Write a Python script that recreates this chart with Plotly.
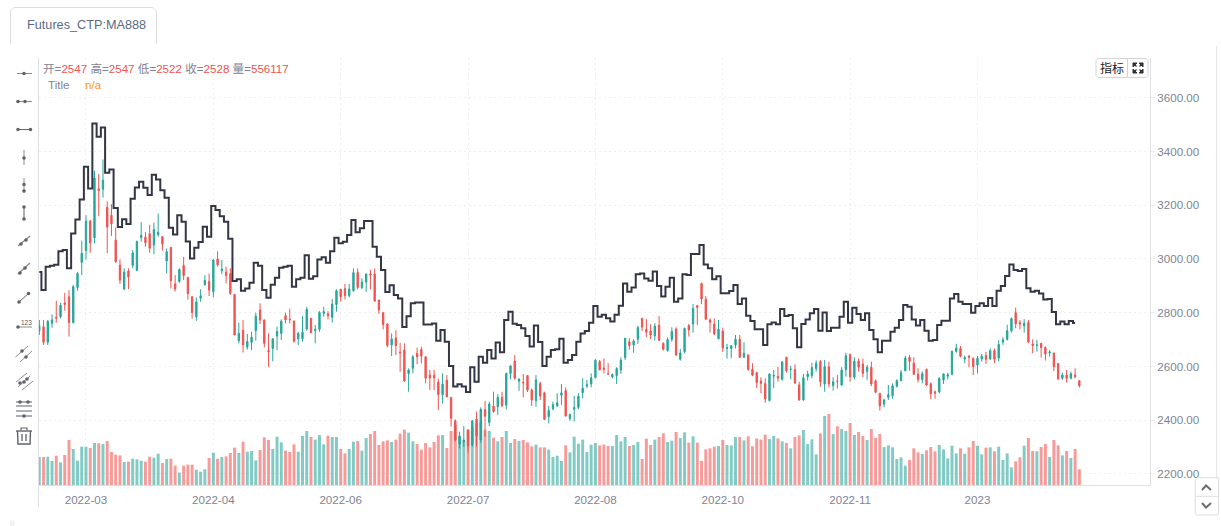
import plotly.graph_objects as go

# Daily bars for Futures_CTP:MA888
open_px = [
    2733,2748,2690,2760,2783,2785,2836,2859,2763,2894,
    2987,3031,3141,3079,3261,3259,3192,3162,3070,2977,
    2888,2955,2976,2957,3079,3081,3094,3052,3090,3083,
    2992,3043,2907,2916,2976,2931,2859,2785,2854,2905,
    2916,2878,3000,2956,2951,2945,2868,2696,2735,2672,
    2690,2733,2810,2773,2660,2667,2713,2723,2789,2776,
    2769,2703,2703,2739,2779,2733,2738,2797,2796,2783,
    2830,2887,2889,2863,2882,2950,2893,2914,2944,2944,
    2847,2800,2758,2680,2706,2654,2661,2573,2593,2649,
    2663,2636,2568,2567,2542,2495,2549,2485,2398,2311,
    2320,2363,2308,2404,2326,2440,2391,2453,2450,2485,
    2456,2574,2620,2545,2541,2566,2512,2473,2537,2502,
    2413,2443,2453,2493,2510,2406,2441,2448,2502,2527,
    2535,2558,2618,2594,2574,2561,2566,2587,2633,2692,
    2680,2701,2779,2738,2732,2714,2753,2686,2659,2701,
    2739,2627,2655,2752,2758,2826,2909,2850,2773,2758,
    2703,2732,2667,2667,2680,2701,2634,2643,2589,2577,
    2546,2537,2473,2564,2563,2552,2634,2589,2589,2531,
    2475,2562,2566,2592,2618,2535,2599,2529,2546,2531,
    2589,2645,2560,2620,2609,2581,2597,2546,2500,2460,
    2485,2491,2526,2547,2584,2634,2613,2572,2552,2589,
    2536,2506,2505,2550,2564,2571,2656,2667,2628,2638,
    2630,2605,2628,2641,2628,2659,2631,2691,2701,2733,
    2800,2763,2751,2764,2684,2678,2686,2671,2650,2650,
    2611,2556,2568,2556,2568,2547,
]
high_px = [
    2773,2773,2773,2794,2845,2837,2874,2884,2903,2952,
    3068,3163,3145,3328,3316,3370,3214,3204,3117,2998,
    2965,2965,3033,3068,3137,3100,3127,3135,3169,3085,
    3039,3045,2940,2965,3008,2934,2862,2857,2887,2939,
    2946,2999,3028,2996,2971,2965,2868,2763,2773,2721,
    2729,2800,2835,2775,2723,2704,2748,2775,2800,2815,
    2770,2729,2787,2822,2780,2754,2806,2822,2806,2851,
    2887,2888,2907,2907,2965,2965,2928,2946,2959,2964,
    2848,2802,2760,2723,2735,2688,2686,2593,2642,2670,
    2673,2637,2587,2587,2555,2574,2568,2486,2403,2357,
    2378,2366,2399,2432,2448,2472,2469,2506,2497,2506,
    2577,2605,2642,2556,2572,2568,2518,2568,2543,2506,
    2453,2469,2500,2535,2522,2423,2490,2500,2556,2550,
    2574,2627,2624,2630,2612,2574,2597,2634,2706,2705,
    2701,2751,2780,2776,2757,2761,2788,2689,2708,2746,
    2746,2665,2745,2758,2832,2829,2912,2862,2779,2779,
    2773,2744,2684,2680,2717,2717,2690,2645,2612,2579,
    2560,2556,2574,2587,2599,2619,2636,2602,2608,2543,
    2572,2584,2614,2622,2624,2624,2618,2560,2568,2597,
    2651,2646,2634,2630,2629,2606,2618,2552,2501,2480,
    2531,2537,2552,2587,2639,2643,2634,2593,2582,2592,
    2540,2510,2560,2574,2577,2659,2684,2676,2641,2643,
    2634,2639,2646,2654,2667,2667,2698,2709,2755,2782,
    2819,2773,2776,2773,2701,2699,2687,2674,2661,2651,
    2612,2577,2587,2581,2593,2547,
]
low_px = [
    2717,2680,2680,2744,2763,2779,2807,2711,2760,2882,
    2940,2998,3023,3058,3159,3228,3021,3086,2985,2907,
    2884,2888,2965,2956,3064,3045,3023,3018,3083,3031,
    2946,2890,2879,2911,2921,2849,2778,2770,2841,2899,
    2862,2857,2971,2944,2909,2866,2717,2686,2652,2663,
    2661,2696,2758,2671,2599,2619,2661,2698,2760,2760,
    2688,2680,2692,2733,2724,2686,2729,2785,2775,2763,
    2804,2841,2849,2857,2878,2887,2887,2878,2887,2841,
    2795,2738,2671,2639,2642,2580,2543,2506,2574,2609,
    2611,2537,2512,2512,2438,2462,2485,2376,2320,2295,
    2301,2279,2301,2301,2316,2339,2378,2428,2419,2448,
    2440,2552,2550,2509,2485,2505,2453,2450,2475,2401,
    2388,2436,2450,2457,2413,2398,2395,2441,2481,2519,
    2522,2556,2586,2574,2568,2556,2535,2572,2624,2662,
    2651,2684,2732,2709,2701,2696,2696,2659,2655,2692,
    2639,2622,2649,2711,2726,2754,2832,2773,2726,2717,
    2701,2654,2629,2630,2667,2631,2631,2584,2564,2519,
    2500,2465,2470,2519,2543,2547,2577,2552,2535,2473,
    2473,2547,2556,2581,2525,2506,2522,2510,2518,2527,
    2562,2543,2552,2581,2560,2550,2527,2500,2436,2448,
    2475,2480,2522,2546,2582,2584,2568,2540,2537,2527,
    2478,2480,2500,2535,2552,2567,2651,2634,2612,2597,
    2568,2574,2618,2609,2624,2612,2618,2680,2696,2726,
    2742,2738,2726,2686,2649,2655,2633,2622,2636,2583,
    2550,2550,2540,2552,2556,2522,
]
close_px = [
    2750,2690,2768,2773,2780,2827,2831,2764,2897,2946,
    3021,3141,3060,3301,3254,3293,3119,3131,2990,2921,
    2951,2933,3023,3065,3088,3060,3040,3110,3099,3055,
    3027,2919,2888,2961,2938,2871,2801,2840,2863,2920,
    2884,2996,2978,2962,2938,2872,2717,2723,2680,2693,
    2709,2787,2773,2686,2655,2703,2730,2768,2773,2774,
    2694,2723,2727,2812,2725,2738,2801,2804,2789,2832,
    2882,2859,2863,2888,2949,2894,2914,2944,2940,2843,
    2810,2756,2678,2702,2677,2651,2546,2587,2636,2636,
    2639,2556,2557,2558,2495,2534,2487,2407,2326,2339,
    2326,2305,2398,2342,2440,2415,2460,2432,2485,2454,
    2574,2602,2556,2553,2539,2512,2475,2550,2490,2403,
    2436,2458,2465,2502,2416,2422,2447,2489,2519,2532,
    2558,2623,2587,2590,2572,2570,2592,2623,2705,2678,
    2695,2745,2747,2727,2717,2750,2697,2664,2700,2730,
    2643,2650,2741,2736,2816,2820,2851,2776,2764,2721,
    2738,2669,2670,2677,2701,2634,2649,2589,2567,2540,
    2537,2479,2572,2567,2557,2617,2584,2590,2538,2475,
    2558,2572,2596,2612,2543,2599,2535,2543,2545,2587,
    2640,2562,2619,2597,2574,2597,2535,2504,2453,2475,
    2495,2528,2547,2577,2631,2619,2571,2552,2573,2531,
    2498,2500,2555,2572,2569,2656,2669,2638,2633,2634,
    2599,2630,2638,2627,2659,2627,2682,2699,2733,2778,
    2758,2758,2761,2691,2678,2680,2670,2646,2654,2599,
    2554,2568,2556,2573,2561,2528,
]
# Traded volume, in thousands of lots
volume_k = [
    991,991,1003,850,1038,802,1062,1593,1274,861,
    1357,1357,1310,1487,1475,1451,1558,1168,1074,1050,
    814,826,932,909,861,826,1003,968,1109,779,
    920,932,684,437,684,720,720,543,472,555,
    956,1145,932,991,1015,1133,1322,1133,1534,1180,
    1204,873,1239,1687,1593,1274,1711,1510,1215,1168,
    1440,1180,1735,1912,1699,1605,1770,1440,1746,1699,
    1699,1274,1121,1274,1534,1558,1215,1664,1805,1912,
    1416,1546,1581,1522,1605,1817,1959,1853,1546,1451,
    1251,1487,1333,1522,1758,1770,1310,1912,2124,1746,
    1581,1959,2065,2183,2242,1959,1912,1676,1546,1699,
    1912,1487,1628,1558,1593,1510,1369,1428,1333,1333,
    1251,991,1038,850,1404,1156,1711,1463,1605,1168,
    1428,1487,1404,1428,1381,1381,1770,1546,1699,1381,
    1416,1522,920,1640,1416,1605,1699,1829,1522,1569,
    1876,1664,1864,1499,1723,1499,850,1263,1298,1357,
    1381,1593,1416,1404,1699,1699,1581,1723,1369,1652,
    1605,1782,1628,1735,1652,1546,1487,1298,1699,1758,
    1947,1451,1617,1086,1829,2443,2513,1805,2077,1982,
    1912,2195,1770,1876,1735,1593,1982,1664,1805,1345,
    1404,1333,920,979,684,885,1298,1156,1097,1227,
    1345,1192,1416,1263,944,1392,1121,1298,1109,1333,
    1558,1392,1086,1322,1333,1192,1357,885,1121,625,
    838,979,1392,1664,1204,1192,1345,1451,991,1593,
    1404,1050,1204,956,1274,556.117,
]
# Stepped indicator line; it stops one bar before the last candle
indicator = [
    2951,2884,2971,2975,2978,3029,3033,2965,3095,3147,
    3221,3343,3262,3504,3455,3489,3321,3333,3190,3119,
    3148,3130,3224,3266,3287,3265,3238,3313,3296,3256,
    3228,3116,3091,3163,3138,3065,3002,3042,3063,3120,
    3083,3197,3182,3159,3138,3075,2918,2924,2882,2890,
    2911,2986,2975,2884,2856,2904,2930,2967,2971,2975,
    2897,2924,2930,3014,2926,2936,2998,3006,2986,3029,
    3079,3058,3064,3089,3145,3099,3114,3141,3141,3045,
    3008,2959,2877,2902,2866,2853,2747,2787,2835,2838,
    2838,2756,2756,2760,2696,2736,2692,2602,2525,2534,
    2525,2505,2597,2543,2636,2614,2661,2630,2689,2653,
    2773,2804,2759,2754,2742,2713,2674,2752,2691,2602,
    2636,2661,2664,2703,2614,2624,2643,2692,2723,2732,
    2763,2825,2785,2792,2779,2767,2792,2826,2909,2878,
    2894,2943,2946,2927,2919,2953,2899,2860,2897,2930,
    2841,2853,2943,2940,3018,3018,3052,2979,2965,2924,
    2936,2872,2872,2881,2903,2832,2853,2789,2769,2738,
    2738,2680,2757,2764,2757,2814,2788,2791,2742,2671,
    2758,2775,2798,2814,2733,2801,2732,2744,2744,2785,
    2841,2763,2818,2795,2773,2798,2736,2701,2653,2696,
    2696,2729,2744,2773,2829,2822,2775,2752,2773,2733,
    2696,2698,2754,2770,2770,2853,2870,2841,2832,2832,
    2800,2825,2835,2825,2855,2825,2882,2899,2937,2979,
    2959,2955,2963,2891,2878,2882,2871,2849,2851,2803,
    2757,2767,2757,2769,2762,
]
month_positions = [11, 41, 71, 101, 131, 161, 191, 221]
month_labels = ["2022-03", "2022-04", "2022-06", "2022-07", "2022-08", "2022-10", "2022-11", "2023"]
price_ticks = [2200, 2400, 2600, 2800, 3000, 3200, 3400, 3600]

UP = "#26a69a"
DOWN = "#ef5350"
UP_VOL = "rgba(38,166,154,0.58)"
DOWN_VOL = "rgba(239,83,80,0.58)"
GRID = "#eceef2"
AXIS = "#dcdfe4"
MUTED = "#7f8494"
ICON = "#5f6368"
FONT = "'Liberation Sans','Noto Sans CJK SC',sans-serif"

W, H = 1221, 526
LEFT, RIGHT, TOP, BOTTOM = 39, 1150, 58, 485
bar_index = list(range(len(close_px)))
line_index = list(range(len(indicator)))


def px(x):
    return (x - LEFT) / (RIGHT - LEFT)


def py(y):
    return (BOTTOM - y) / (BOTTOM - TOP)


shapes = []


def seg(x0, y0, x1, y1, color=ICON, width=1.0):
    shapes.append(dict(type="line", xref="paper", yref="paper",
                       x0=px(x0), y0=py(y0), x1=px(x1), y1=py(y1),
                       line=dict(color=color, width=width), layer="above"))


def dot(x, y, r=1.8, color=ICON):
    shapes.append(dict(type="circle", xref="paper", yref="paper",
                       x0=px(x - r), y0=py(y - r), x1=px(x + r), y1=py(y + r),
                       line=dict(width=0), fillcolor=color, layer="above"))


def poly(points, color=ICON, width=1.0, close=False, fill=None):
    d = "M" + " L".join(f"{px(a):.5f},{py(b):.5f}" for a, b in points)
    if close:
        d += " Z"
    shapes.append(dict(type="path", xref="paper", yref="paper", path=d,
                       line=dict(color=color, width=width),
                       fillcolor=fill or "rgba(0,0,0,0)", layer="above"))


# Drawing toolbar down the left edge
seg(17, 73.5, 32, 73.5, "#8a8d91"); dot(24, 73.5)
seg(17, 101.5, 32, 101.5, "#8a8d91"); dot(18, 101.5); dot(25, 101.5)
seg(17.5, 129.5, 31, 129.5); dot(18, 129.5); dot(30.5, 129.5)
seg(24, 150, 24, 165, "#8a8d91"); dot(24, 158)
seg(24, 178, 24, 193, "#8a8d91"); dot(24, 184.5); dot(24, 191)
seg(24, 207, 24, 219); dot(24, 207); dot(24, 219)
seg(18, 246, 30, 236, "#8a8d91", 1.4); dot(21, 244); dot(26, 240)
seg(18, 274, 30, 263, "#8a8d91", 1.4); dot(20, 273); dot(25, 268)
seg(19, 302, 29, 293); dot(19, 302); dot(28.5, 293.5)
seg(18, 327, 32, 327, "#8a8d91"); dot(18, 327)
seg(15.5, 357, 28, 346, "#8a8d91"); seg(20, 362, 32, 351, "#8a8d91"); dot(22, 351); dot(26, 357)
seg(16, 382, 27, 373, "#8a8d91"); seg(18, 387, 30, 376, "#8a8d91"); seg(22, 390, 33, 381, "#8a8d91")
dot(20, 383); dot(24, 382); dot(27, 379)
for yy in (402, 406, 411, 416):
    seg(16, yy, 32, yy)
dot(20, 402); dot(28, 402); dot(24, 416)
# Rubbish bin
seg(16, 431, 32, 431, ICON, 1.4)
poly([(21, 430.5), (21, 428), (27, 428), (27, 430.5)], ICON, 1.1)
poly([(17.5, 431), (18, 444), (30, 444), (30.5, 431)], ICON, 1.4)
seg(22, 434, 22, 441, ICON, 1.3)
seg(26, 434, 26, 441, ICON, 1.3)

# Tab above the chart
poly([(10.5, 44), (10.5, 11), (14, 7.5), (153, 7.5), (156.5, 11), (156.5, 44)], "#dddddd", 1)
# Panel edge on the right and the lower axis extension on the left
seg(1216.7, 46, 1216.7, 478, "#e3e3e3", 1)
seg(38.5, 485, 38.5, 507, AXIS, 1)
seg(38.5, 58, 38.5, 485, AXIS, 1)
# Small stub at the bottom left
shapes.append(dict(type="rect", xref="paper", yref="paper", x0=px(10), x1=px(14.5),
                   y0=py(526), y1=py(520.5), line=dict(width=0), fillcolor="#f2f2f2", layer="above"))

# Indicator / fullscreen buttons
poly([(1098, 58.5), (1146, 58.5), (1148, 60.5), (1148, 75.5), (1146, 77.5), (1098, 77.5), (1096, 75.5), (1096, 60.5)],
     "#d4d4d4", 1, close=True, fill="#ffffff")
seg(1127.5, 58.5, 1127.5, 77.5, "#d4d4d4", 1)
for sx, sy in ((1, 1), (-1, 1), (1, -1), (-1, -1)):
    cx, cy = 1138 - sx * 5, 68 - sy * 5
    poly([(cx, cy), (cx + sx * 4, cy), (cx, cy + sy * 4)], "#333333", 1, close=True, fill="#333333")
    seg(cx, cy, cx + sx * 3.5, cy + sy * 3.5, "#333333", 1.2)

# Up / down scroll buttons
poly([(1197, 477.7), (1218, 477.7), (1218.5, 479), (1218.5, 514), (1217, 515), (1197, 515), (1195.2, 513), (1195.2, 480)],
     "#dddddd", 1, close=True, fill="#ffffff")
seg(1195.2, 496.3, 1218.5, 496.3, "#dddddd", 1)
poly([(1202, 490), (1206, 485.5), (1211, 490)], "#6d6d6d", 2)
poly([(1202, 503), (1206, 507.5), (1211, 503)], "#6d6d6d", 2)

volume_colors = [UP_VOL if c >= o else DOWN_VOL for o, c in zip(open_px, close_px)]

fig = go.Figure()
fig.add_trace(go.Bar(
    x=bar_index, y=[v * 1000 for v in volume_k], width=0.7,
    marker=dict(color=volume_colors, line=dict(width=0)), yaxis="y", hoverinfo="y",
))
fig.add_trace(go.Candlestick(
    x=bar_index, open=open_px, high=high_px, low=low_px, close=close_px, yaxis="y2",
    increasing=dict(line=dict(color=UP, width=1), fillcolor=UP),
    decreasing=dict(line=dict(color=DOWN, width=1), fillcolor=DOWN),
    whiskerwidth=0,
))
fig.add_trace(go.Scatter(
    x=line_index, y=indicator, yaxis="y2", mode="lines",
    line=dict(color="#333645", width=2, shape="hvh"),
))


def label(x, y, text, size=11.6, color=MUTED, anchor="left"):
    return dict(xref="paper", yref="paper", x=px(x), y=py(y), text=text, showarrow=False,
                xanchor=anchor, yanchor="middle", align="left",
                font=dict(family=FONT, size=size, color=color))


def pair(name, value):
    return f"{name}=<span style='color:{DOWN}'>{value}</span>"


header = " ".join([pair("开", 2547), pair("高", 2547), pair("低", 2522), pair("收", 2528), pair("量", 556117)])

fig.update_layout(
    width=W, height=H, autosize=False,
    margin=dict(l=LEFT, r=W - RIGHT, t=TOP, b=H - BOTTOM, pad=0),
    paper_bgcolor="white", plot_bgcolor="white",
    showlegend=False, hovermode="x", boxgap=0.55, bargap=0.3,
    font=dict(family=FONT, size=11.6, color=MUTED),
    xaxis=dict(
        range=[-0.07, 261.64], tickmode="array", tickvals=month_positions, ticktext=month_labels,
        showgrid=True, gridcolor=GRID, griddash="2px,3px", gridwidth=1, zeroline=False,
        showline=True, linecolor=AXIS, linewidth=1,
        ticks="outside", ticklen=4, tickcolor="rgba(0,0,0,0)",
        rangeslider=dict(visible=False), fixedrange=True,
    ),
    yaxis=dict(range=[0, 15120000], visible=False, fixedrange=True),
    yaxis2=dict(
        overlaying="y", side="right", range=[2158.9, 3747.7],
        tickmode="array", tickvals=price_ticks, tickformat=".2f",
        showgrid=True, gridcolor=GRID, griddash="2px,3px", gridwidth=1, zeroline=False,
        showline=True, linecolor=AXIS, linewidth=1,
        ticks="outside", ticklen=4, tickcolor=GRID, fixedrange=True,
    ),
    shapes=shapes,
    annotations=[
        label(25, 24.5, "Futures_CTP:MA888", size=12.7, color="#5c6b85"),
        label(40.5, 68, header),
        label(46, 84.5, "Title"),
        label(83, 84.5, "n/a", color="#ff9800"),
        label(1111.5, 68, "指标", size=12, color="#222222", anchor="center"),
        label(19, 322, "123", size=6.5, color="#555555"),
    ],
)

fig.write_html("out.html", config=dict(displayModeBar=False))
